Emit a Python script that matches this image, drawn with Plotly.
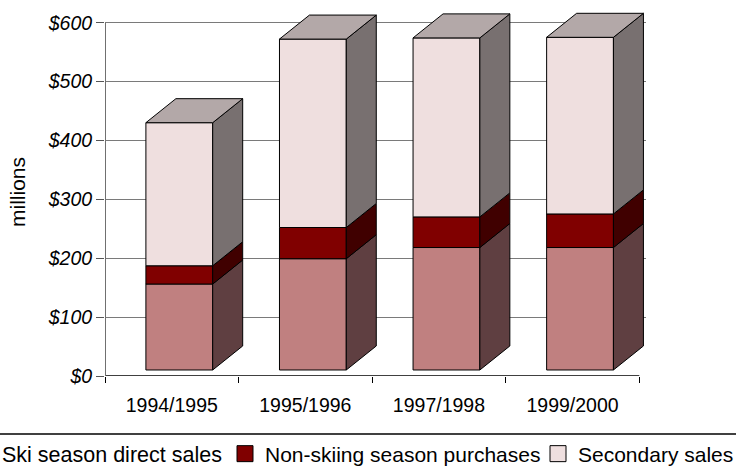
import plotly.graph_objects as go

# ---------------- data ----------------
categories = ["1994/1995", "1995/1996", "1997/1998", "1999/2000"]
direct_sales = [146, 189, 208, 208]
nonskiing_purchases = [31, 53, 52, 57]
secondary_sales = [243, 320, 304, 300]
series_names = ["Ski season direct sales", "Non-skiing season purchases", "Secondary sales"]
y_tick_values = [0, 100, 200, 300, 400, 500, 600]
y_tick_labels = ["$" + str(v) for v in y_tick_values]
y_axis_title = "millions"

# ---------------- style ----------------
front_colors = ["#C08080", "#800000", "#EFDFDF"]
side_colors = ["#5F3F41", "#400000", "#787070"]
top_colors = ["#906060", "#600000", "#B3A8A8"]
FONT = "Liberation Sans"

BAR_WIDTH = 0.5          # category units
DEPTH_X = 0.2246         # 3D depth, category units
DEPTH_Y = 40.8           # 3D depth, value units
SHIFT_X = 0.25 * DEPTH_X # front face sits a quarter of the depth back
SHIFT_Y = 0.25 * DEPTH_Y

X_MIN, X_MAX = -0.5, len(categories) - 0.45
Y_MIN, Y_MAX = 0, 625
PLOT_W = 541.0
PLOT_L = 105.0

series = [direct_sales, nonskiing_purchases, secondary_sales]
xs = list(range(len(categories)))

fig = go.Figure()

cum = [0.0] * len(categories)
for k, vals in enumerate(series):
    bottoms = [SHIFT_Y + c for c in cum]
    tops = [b + v for b, v in zip(bottoms, vals)]
    # side faces (and top faces for the top of each stack)
    for i, x in enumerate(xs):
        x0 = x + SHIFT_X - BAR_WIDTH / 2
        x1 = x + SHIFT_X + BAR_WIDTH / 2
        y0, y1 = bottoms[i], tops[i]
        fig.add_trace(go.Scatter(
            x=[x1, x1 + DEPTH_X, x1 + DEPTH_X, x1, x1],
            y=[y0, y0 + DEPTH_Y, y1 + DEPTH_Y, y1, y0],
            mode="lines", fill="toself", fillcolor=side_colors[k],
            line=dict(color="black", width=1), hoverinfo="skip", showlegend=False))
        if k == len(series) - 1:
            fig.add_trace(go.Scatter(
                x=[x0, x1, x1 + DEPTH_X, x0 + DEPTH_X, x0],
                y=[y1, y1, y1 + DEPTH_Y, y1 + DEPTH_Y, y1],
                mode="lines", fill="toself", fillcolor=top_colors[k],
                line=dict(color="black", width=1), hoverinfo="skip", showlegend=False))
    # front faces
    fig.add_trace(go.Bar(
        x=xs, y=vals, base=bottoms, width=BAR_WIDTH, offset=SHIFT_X - BAR_WIDTH / 2,
        name=series_names[k], marker=dict(color=front_colors[k], line=dict(color="black", width=1)),
        customdata=categories, hovertemplate="%{customdata}<br>$%{y}M<extra>" + series_names[k] + "</extra>",
        showlegend=False, legendgroup=series_names[k]))
    cum = [c + v for c, v in zip(cum, vals)]

# legend entries (16 px squares), one legend box per entry so the row never wraps
legend_ids = ["legend", "legend2", "legend3"]
legend_left_px = [-38, 225, 538]
legend_font_sizes = [21.5, 21, 21]
for k in range(len(series)):
    fig.add_trace(go.Scatter(
        x=[None], y=[None], mode="markers", name=series_names[k], legendgroup=series_names[k],
        legend=legend_ids[k],
        marker=dict(symbol="square", size=16, color=front_colors[k], line=dict(color="black", width=1))))

legend_y = -(454 - 376) / 368
for lid, left, fs in zip(legend_ids, legend_left_px, legend_font_sizes):
    fig.update_layout({lid: dict(orientation="h", x=(left - PLOT_L) / PLOT_W, xanchor="left",
                                 y=legend_y, yanchor="middle",
                                 font=dict(family=FONT, size=fs, color="black"),
                                 bgcolor="rgba(0,0,0,0)")})

boundaries = [i - 0.5 for i in range(len(categories) + 1)]

fig.update_layout(
    width=736, height=471,
    margin=dict(l=105, r=90, t=8, b=95, autoexpand=False),
    paper_bgcolor="white", plot_bgcolor="white",
    barmode="overlay",
    font=dict(family=FONT, color="black"),
    showlegend=True,
    xaxis=dict(range=[X_MIN, X_MAX], tickmode="array", tickvals=xs, ticktext=categories,
               ticks="", showgrid=False, zeroline=False, showline=False,
               tickfont=dict(family=FONT, size=19.5), ticklabelstandoff=15,
               minor=dict(tickmode="array", tickvals=boundaries, ticks="outside", ticklen=6,
                          tickcolor="black", tickwidth=1, showgrid=False)),
    yaxis=dict(range=[Y_MIN, Y_MAX], tickmode="array", tickvals=y_tick_values, ticktext=y_tick_labels,
               ticks="outside", ticklen=8, tickcolor="#555555", tickwidth=1,
               showgrid=True, gridcolor="#7A7A7A", gridwidth=1.2, zeroline=False, showline=False,
               tickfont=dict(family=FONT, size=19.5, style="italic"),
               title=dict(text=y_axis_title, font=dict(family=FONT, size=21), standoff=16)),
    shapes=[
        dict(type="line", xref="x", yref="y", x0=X_MIN, x1=boundaries[-1], y0=0, y1=0,
             line=dict(color="black", width=1.5)),
        dict(type="line", xref="x", yref="y", x0=X_MIN, x1=X_MIN, y0=0, y1=y_tick_values[-1],
             line=dict(color="#707070", width=2)),
        dict(type="line", xref="paper", yref="paper", x0=-PLOT_L / PLOT_W, x1=(736 - PLOT_L) / PLOT_W,
             y0=-(434 - 376) / 368, y1=-(434 - 376) / 368, line=dict(color="black", width=1.5)),
    ],
)

fig.write_html("out.html")
